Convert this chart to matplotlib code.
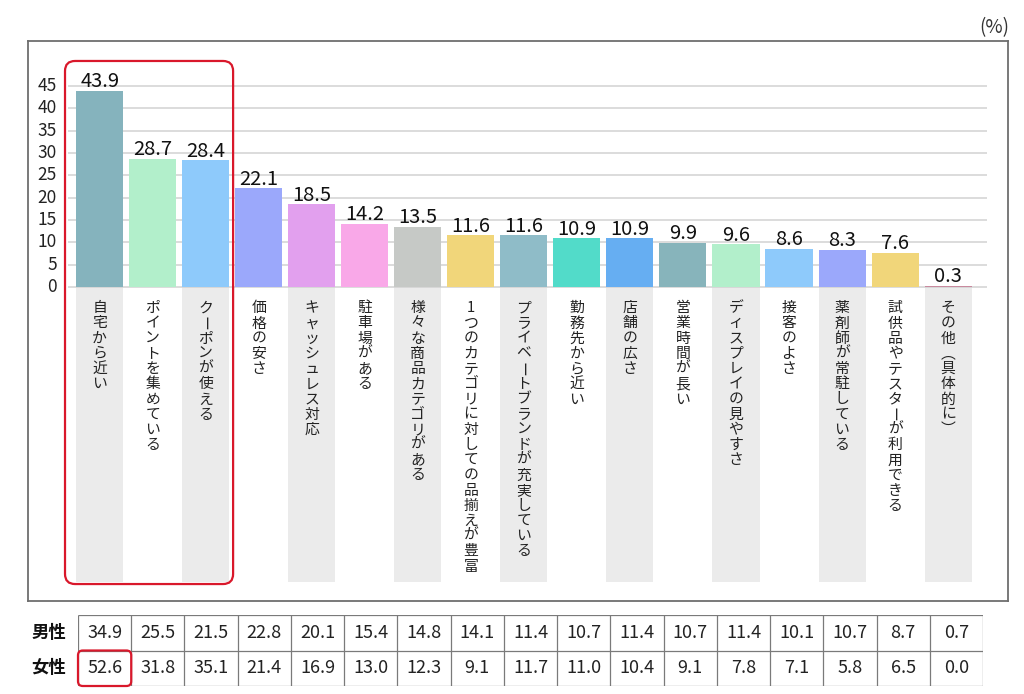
import matplotlib
matplotlib.use("Agg")
import matplotlib.pyplot as plt
from matplotlib.patches import FancyBboxPatch
import numpy as np

plt.rcParams['font.family'] = ['Noto Sans CJK JP', 'DejaVu Sans']

# data
categories = ["自宅から近い", "ポイントを集めている", "クーポンが使える", "価格の安さ",
              "キャッシュレス対応", "駐車場がある", "様々な商品カテゴリがある",
              "1つのカテゴリに対しての品揃えが豊富", "プライベートブランドが充実している",
              "勤務先から近い", "店舗の広さ", "営業時間が長い", "ディスプレイの見やすさ",
              "接客のよさ", "薬剤師が常駐している", "試供品やテスターが利用できる",
              "その他（具体的に）"]
total = [43.9, 28.7, 28.4, 22.1, 18.5, 14.2, 13.5, 11.6, 11.6, 10.9, 10.9,
         9.9, 9.6, 8.6, 8.3, 7.6, 0.3]
male = [34.9, 25.5, 21.5, 22.8, 20.1, 15.4, 14.8, 14.1, 11.4, 10.7, 11.4,
        10.7, 11.4, 10.1, 10.7, 8.7, 0.7]
female = [52.6, 31.8, 35.1, 21.4, 16.9, 13.0, 12.3, 9.1, 11.7, 11.0, 10.4,
          9.1, 7.8, 7.1, 5.8, 6.5, 0.0]
row_labels = ["男性", "女性"]
yticks = [0, 5, 10, 15, 20, 25, 30, 35, 40, 45]

bar_colors = ["#85B3BD", "#B2EFCB", "#8ECAFB", "#9BA8FB", "#E2A0EE", "#F9A8E8",
              "#C6C9C6", "#F1D67A", "#8FBCC8", "#52DBC9", "#66AEF2", "#87B4BB",
              "#B2EFCB", "#8ECAFB", "#9BA8FB", "#F1D67A", "#C98A9F"]
RED = "#D9182B"

W, H = 1024, 694
fig = plt.figure(figsize=(W / 100, H / 100), dpi=100)

# main chart inside the framed box
ax = fig.add_axes([28 / W, (H - 600.7) / H, 980 / W, 560 / H])
ax.set_xlim(-1.352, 17.13)
ax.set_ylim(-70.23, 55.14)
ax.set_xticks([])
ax.set_yticks([])
for sp in ax.spines.values():
    sp.set_color("#6E6E6E")
    sp.set_linewidth(1.3)

x = np.arange(len(categories))

# grey label columns under every other bar
ax.bar(x[::2], -66.0, width=0.887, color="#EBEBEB", zorder=0)

ax.hlines(yticks, -0.6, 16.73, color="#D2D2D2", lw=1.1, zorder=1)
ax.bar(x, total, width=0.887, color=bar_colors, zorder=2)

for t in yticks:
    ax.text(-0.805, t, str(t), ha="right", va="center", fontsize=12.5, color="#222")

for xi, v in zip(x, total):
    ax.annotate(f"{v:.1f}", (xi, v), xytext=(0, -1), textcoords="offset points",
                ha="center", va="bottom", fontsize=14.5, color="#111", zorder=3)

# vertical (tategaki) category labels, one character per line
vertical_forms = {"（": "︵", "）": "︶"}
for xi, lab in zip(x, categories):
    for k, ch in enumerate(lab):
        off_px = 21.3 + 15.2 * k
        rot = ch == "ー"
        dx = -2.5 if rot else 0
        ax.annotate(vertical_forms.get(ch, ch), (xi, 0),
                    xytext=(dx * 0.72, -off_px * 0.72), textcoords="offset points",
                    ha="center", va="center", fontsize=10.7, color="#222",
                    rotation=-90 if rot else 0, zorder=3)

# red highlight round the top three
asp = (1 / 4.467) / (1 / 53.02)
ax.add_patch(FancyBboxPatch((-0.654, -66.5), 3.17, 117.1,
                            boxstyle="round,pad=0,rounding_size=0.19",
                            mutation_aspect=asp, fill=False, ec=RED, lw=1.6, zorder=4))

fig.text(994 / W, 1 - 28 / H, "(%)", ha="center", va="center", fontsize=13.5, color="#333")

# table of male / female values
tab = fig.add_axes([78 / W, (H - 686) / H, 905 / W, 71 / H])
n = len(categories)
tab.set_xlim(0, n)
tab.set_ylim(0, 2)
tab.axis("off")
tab.vlines(np.arange(n + 1), 0, 2, color="#7A7A7A", lw=0.9)
tab.hlines([0, 1, 2], 0, n, color="#7A7A7A", lw=0.9)
for r, (lab, vals) in enumerate(zip(row_labels, [male, female])):
    yc = 1.5 - r
    tab.text(-0.55, yc, lab, ha="center", va="center", fontsize=12.5, color="#111",
             weight="bold")
    for j, v in enumerate(vals):
        tab.text(j + 0.5, yc, f"{v:.1f}", ha="center", va="center", fontsize=13,
                 color="#222")

tab.add_patch(FancyBboxPatch((0.0, 0.0), 1.0, 1.0,
                             boxstyle="round,pad=0,rounding_size=0.09",
                             mutation_aspect=(2 / 71) / (17 / 905),
                             fill=False, ec=RED, lw=1.6, zorder=4, clip_on=False))

fig.savefig("out.png", dpi=100)
